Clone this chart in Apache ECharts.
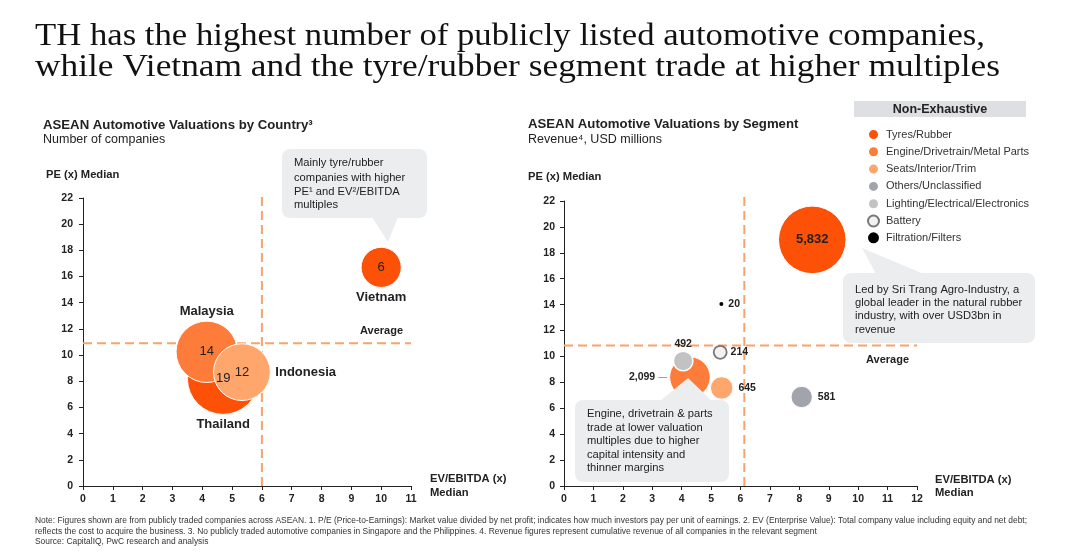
<!DOCTYPE html>
<html><head><meta charset="utf-8">
<script src="https://cdn.jsdelivr.net/npm/echarts@6/dist/echarts.min.js"></script>
<style>html,body{margin:0;padding:0;background:#fff}#c{width:1080px;height:556px}</style>
</head><body><div id="c"></div>
<script>
// ---------- Data: by country ----------
const countries = ['Thailand', 'Malaysia', 'Indonesia', 'Vietnam'];
const countryEV = [4.7, 4.15, 5.33, 10.0];        // EV/EBITDA (x) median
const countryPE = [8.2, 10.25, 8.7, 16.7];        // PE (x) median
const countryCompanies = [19, 14, 12, 6];         // number of companies
const countryAvgEV = 6.0;
const countryAvgPE = 10.9;
const countryXTicks = [0,1,2,3,4,5,6,7,8,9,10,11];

// ---------- Data: by segment ----------
const segments = ['Tyres/Rubber', 'Engine/Drivetrain/Metal Parts', 'Seats/Interior/Trim',
  'Others/Unclassified', 'Lighting/Electrical/Electronics', 'Battery', 'Filtration/Filters'];
const segmentEV = [8.44, 4.28, 5.36, 8.08, 4.05, 5.31, 5.35];
const segmentPE = [19.0, 8.4, 7.57, 6.87, 9.65, 10.32, 14.05];
const segmentRevenue = [5832, 2099, 645, 581, 492, 214, 20];   // USD millions
const segmentAvgEV = 6.13;
const segmentAvgPE = 10.85;
const segmentXTicks = [0,1,2,3,4,5,6,7,8,9,10,11,12];
const peTicks = [0,2,4,6,8,10,12,14,16,18,20,22];

// ---------- Styles ----------
const ff = '"Liberation Sans", Arial, sans-serif';
const txtCol = '#222';
const dashCol = '#FAA26A';
const countryColors = {Thailand:'#FD5108', Malaysia:'#FE7C39', Indonesia:'#FFA66D', Vietnam:'#FD5108'};
const countryNamePos = {Thailand:['bottom',4], Malaysia:['top',3], Indonesia:['right',5], Vietnam:['bottom',3]};
const segStyle = {
  'Tyres/Rubber': {color:'#FD5108', borderColor:'#fff', borderWidth:1},
  'Engine/Drivetrain/Metal Parts': {color:'#FE7C39', borderColor:'#fff', borderWidth:1},
  'Seats/Interior/Trim': {color:'#FFA66D', borderColor:'#fff', borderWidth:1},
  'Others/Unclassified': {color:'#A1A4AD', borderColor:'#fff', borderWidth:1},
  'Lighting/Electrical/Electronics': {color:'#C2C2C2', borderColor:'#fff', borderWidth:1.5},
  'Battery': {color:'#F2F2F2', borderColor:'#777', borderWidth:1.8},
  'Filtration/Filters': {color:'#000', borderColor:'#000', borderWidth:0}
};
const segLabel = {
  'Tyres/Rubber': ['inside',0],
  'Engine/Drivetrain/Metal Parts': ['left',2],
  'Seats/Interior/Trim': ['right',5],
  'Others/Unclassified': ['right',5],
  'Lighting/Electrical/Electronics': ['top',1],
  'Battery': ['right',3],
  'Filtration/Filters': ['right',5]
};

function fmt(n){ return n.toLocaleString('en-US'); }

function xAxisFor(gi, ticks){
  return {type:'value', gridIndex:gi, min:ticks[0], max:ticks[ticks.length-1], interval:ticks[1]-ticks[0],
    axisLine:{show:true, onZero:false, lineStyle:{color:'#222', width:1}},
    axisTick:{show:true, length:4, lineStyle:{color:'#222'}},
    splitLine:{show:false},
    axisLabel:{fontFamily:ff, fontSize:10.5, fontWeight:'bold', color:txtCol, margin:8}};
}
function yAxisFor(gi, ticks, margin){
  return {type:'value', gridIndex:gi, min:ticks[0], max:ticks[ticks.length-1], interval:ticks[1]-ticks[0],
    axisLine:{show:true, onZero:false, lineStyle:{color:'#222', width:1}},
    axisTick:{show:true, length:4, lineStyle:{color:'#222'}},
    splitLine:{show:false},
    axisLabel:{fontFamily:ff, fontSize:10.5, fontWeight:'bold', color:txtCol, margin:margin}};
}

const countrySize = v => 16.4 * Math.sqrt(v[2]);
const segSize = v => Math.max(3, 0.885 * Math.sqrt(v[2]));

const countryData = countries.map((c,i)=>({name:c, value:[countryEV[i], countryPE[i], countryCompanies[i]],
  itemStyle:{color:countryColors[c]}}));

function dashLine(gi, pts){
  return {type:'line', xAxisIndex:gi, yAxisIndex:gi, data:pts, clip:false, z:1, silent:true,
    symbol:'none', animation:false, lineStyle:{type:[9,5], color:dashCol, width:2}};
}

const series = [
  dashLine(0, [[countryAvgEV,0],[countryAvgEV,22.45]]),
  dashLine(0, [[countryXTicks[0],countryAvgPE],[countryXTicks[countryXTicks.length-1],countryAvgPE]]),
  dashLine(1, [[segmentAvgEV,0],[segmentAvgEV,22.7]]),
  dashLine(1, [[segmentXTicks[0],segmentAvgPE],[segmentXTicks[segmentXTicks.length-1],segmentAvgPE]]),
  // country bubbles
  {type:'scatter', name:'countries', xAxisIndex:0, yAxisIndex:0, z:3, silent:true, animation:false,
   data:countryData, symbolSize:countrySize,
   itemStyle:{borderColor:'#fff', borderWidth:1, opacity:1},
   label:{show:true, position:'inside', formatter:p=>String(p.value[2]), fontFamily:ff, fontSize:13, color:txtCol}},
  // country name labels
  {type:'scatter', name:'countryNames', xAxisIndex:0, yAxisIndex:0, z:4, silent:true, animation:false,
   data:countries.map((c,i)=>({name:c, value:[countryEV[i], countryPE[i], countryCompanies[i]],
     label:{position:countryNamePos[c][0], distance:countryNamePos[c][1]}})),
   symbolSize:countrySize, itemStyle:{color:'rgba(255,255,255,0)', opacity:1},
   label:{show:true, formatter:'{b}', fontFamily:ff, fontSize:13, fontWeight:'bold', color:txtCol, opacity:1, textBorderWidth:0}}
];

segments.forEach((s,i)=>{
  const isBig = s==='Tyres/Rubber';
  const isLeft = segLabel[s][0]==='left';
  series.push({type:'scatter', name:s, xAxisIndex:1, yAxisIndex:1, z:3, silent:true, animation:false,
    data:[{name:s, value:[segmentEV[i], segmentPE[i], segmentRevenue[i]]}],
    symbolSize:segSize, itemStyle:Object.assign({opacity:1}, segStyle[s]),
    label:{show:true, position:segLabel[s][0], distance:segLabel[s][1],
      formatter: isLeft ? (p=>'{v|'+fmt(p.value[2])+'} {l|—}') : (p=>fmt(p.value[2])),
      fontFamily:ff, fontWeight:'bold', fontSize:isBig?13:10.5, color:txtCol,
      rich:{v:{fontFamily:ff, fontWeight:'bold', fontSize:10.5, color:txtCol},
            l:{fontFamily:ff, fontSize:9, color:'#999'}}}});
});

// ---------- text fitting ----------
const cv = document.createElement('canvas').getContext('2d');
function fitScale(text, font, target){ cv.font = font; return target / cv.measureText(text).width; }

const titleFont = '32px "Liberation Serif", "Times New Roman", serif';
const title1 = 'TH has the highest number of publicly listed automotive companies,';
const title2 = 'while Vietnam and the tyre/rubber segment trade at higher multiples';
const titleScale1 = fitScale(title1, titleFont, 950);
const titleScale2 = fitScale(title2, titleFont, 965);

const noteFont = '8.5px "Liberation Sans", Arial, sans-serif';
const note1 = 'Note: Figures shown are from publicly traded companies across ASEAN. 1. P/E (Price-to-Earnings): Market value divided by net profit; indicates how much investors pay per unit of earnings. 2. EV (Enterprise Value): Total company value including equity and net debt;';
const note2 = 'reflects the cost to acquire the business. 3. No publicly traded automotive companies in Singapore and the Philippines. 4. Revenue figures represent cumulative revenue of all companies in the relevant segment';
const note3 = 'Source: CapitalIQ, PwC research and analysis';
const noteScale = fitScale(note1, noteFont, 992);

function T(x, y, text, font, opts){
  opts = opts || {};
  return {type:'text', x:x, y:y, z:100, scaleX:opts.scaleX||1, silent:true,
    style:{text:text, x:0, y:0, font:font, fill:opts.fill||txtCol,
      textAlign:opts.align||'left', align:opts.align||'left',
      textVerticalAlign:'middle', verticalAlign:'middle'}};
}
const F = (size, bold) => (bold?'bold ':'') + size + 'px ' + ff;
const calloutFill = '#ECEDEF';
const cf = F(11.2,false);

const graphics = [
  T(35, 36.5, title1, titleFont, {scaleX:titleScale1, fill:'#111'}),
  T(35, 67.5, title2, titleFont, {scaleX:titleScale2, fill:'#111'}),
  // sub titles
  T(43, 125, 'ASEAN Automotive Valuations by Country³', F(13.2,true)),
  T(43, 139.5, 'Number of companies', F(12.5,false)),
  T(528, 124.5, 'ASEAN Automotive Valuations by Segment', F(13.2,true)),
  T(528, 139.5, 'Revenue⁴, USD millions', F(12.5,false)),
  // axis names
  T(46, 174.5, 'PE (x) Median', F(11.2,true)),
  T(528, 177, 'PE (x) Median', F(11.2,true)),
  T(430, 479, 'EV/EBITDA (x)', F(11.2,true)),
  T(430, 492.5, 'Median', F(11.2,true)),
  T(935, 480, 'EV/EBITDA (x)', F(11.2,true)),
  T(935, 493, 'Median', F(11.2,true)),
  // average labels
  T(403, 330.5, 'Average', F(11,true), {align:'right'}),
  T(909, 359.5, 'Average', F(11,true), {align:'right'}),
  // legend header
  {type:'rect', z:90, silent:true, shape:{x:854, y:101, width:172, height:16}, style:{fill:'#DEDFE2'}},
  T(940, 109.5, 'Non-Exhaustive', F(12.5,true), {align:'center'}),
  // left callout
  {type:'rect', z:95, silent:true, shape:{x:282, y:149, width:145, height:69, r:8}, style:{fill:calloutFill}},
  {type:'polygon', z:95, silent:true, shape:{points:[[372,217],[398,217],[388,242]]}, style:{fill:calloutFill}},
  T(294, 163, 'Mainly tyre/rubber', cf),
  T(294, 177.5, 'companies with higher', cf),
  T(294, 191.5, 'PE¹ and EV²/EBITDA', cf),
  T(294, 205, 'multiples', cf),
  // Sri Trang callout
  {type:'rect', z:95, silent:true, shape:{x:843, y:273, width:192, height:70, r:8}, style:{fill:calloutFill}},
  {type:'polygon', z:95, silent:true, shape:{points:[[862,248],[876,274],[924,274]]}, style:{fill:calloutFill}},
  T(855, 290, 'Led by Sri Trang Agro-Industry, a', cf),
  T(855, 303, 'global leader in the natural rubber', cf),
  T(855, 316, 'industry, with over USD3bn in', cf),
  T(855, 329.5, 'revenue', cf),
  // Engine callout
  {type:'rect', z:95, silent:true, shape:{x:575, y:400, width:154, height:82, r:8}, style:{fill:calloutFill}},
  {type:'polygon', z:95, silent:true, shape:{points:[[688,378],[660,401],[712,401]]}, style:{fill:calloutFill}},
  T(587, 414, 'Engine, drivetrain & parts', cf),
  T(587, 427.5, 'trade at lower valuation', cf),
  T(587, 441, 'multiples due to higher', cf),
  T(587, 454.5, 'capital intensity and', cf),
  T(587, 468, 'thinner margins', cf),
  // footnote
  T(35, 521, note1, noteFont, {scaleX:noteScale, fill:'#333'}),
  T(35, 531.5, note2, noteFont, {scaleX:noteScale, fill:'#333'}),
  T(35, 542, note3, noteFont, {scaleX:noteScale, fill:'#333'})
];

const option = {
  backgroundColor:'#fff',
  animation:false,
  textStyle:{fontFamily:ff},
  grid:[{left:83, top:198, width:328, height:288, containLabel:false},
        {left:564, top:201, width:353, height:285, containLabel:false}],
  xAxis:[xAxisFor(0, countryXTicks), xAxisFor(1, segmentXTicks)],
  yAxis:[yAxisFor(0, peTicks, 10), yAxisFor(1, peTicks, 9)],
  legend:{show:true, data:segments, orient:'vertical', left:867, top:128, padding:0, icon:'circle',
    itemWidth:11, itemHeight:11, itemGap:4.3, selectedMode:false,
    textStyle:{fontFamily:ff, fontSize:11, color:'#333', lineHeight:12, padding:[0,0,0,2]}},
  tooltip:{show:false},
  series:series,
  graphic:{elements:graphics}
};

const chart = echarts.init(document.getElementById('c'), null, {renderer:'canvas'});
chart.setOption(option);
</script>
</body></html>
